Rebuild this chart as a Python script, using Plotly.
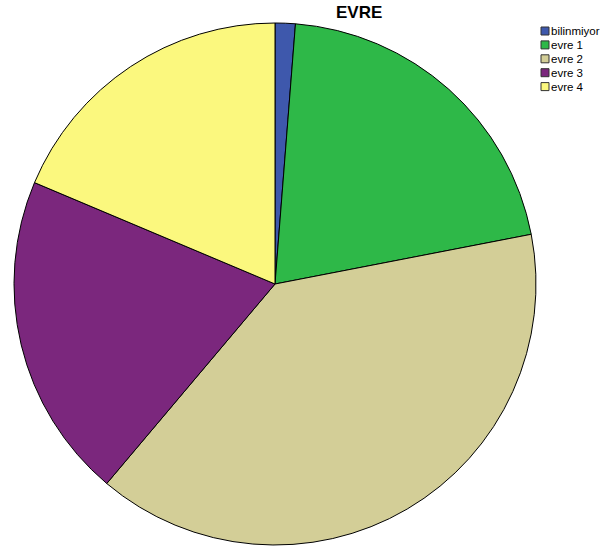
import plotly.graph_objects as go

categories = ["bilinmiyor", "evre 1", "evre 2", "evre 3", "evre 4"]
values = [1.25, 20.7, 39.2, 20.2, 18.65]
colors = ["#3E58AC", "#2EB848", "#D3CE97", "#7B277D", "#FBF87E"]

W, H = 603, 554
fig = go.Figure(go.Pie(
    labels=categories, values=values, sort=False, direction="clockwise",
    rotation=0, textinfo="none", hoverinfo="label+percent",
    marker=dict(colors=colors, line=dict(color="black", width=1)),
    domain=dict(x=[14 / W, 536 / W], y=[9 / H, 531 / H]),
    showlegend=False,
))

# manual legend (compact, like the reference)
for i, (lab, col) in enumerate(zip(categories, colors)):
    yc = 31 + i * 13.9
    fig.add_shape(type="rect", xref="paper", yref="paper",
                  x0=541 / W, x1=549 / W, y0=1 - (yc - 4) / H, y1=1 - (yc + 4) / H,
                  fillcolor=col, line=dict(color="#333333", width=1))
    fig.add_annotation(x=549.5 / W, y=1 - yc / H, xref="paper", yref="paper",
                       text=lab, showarrow=False, xanchor="left", yanchor="middle",
                       borderpad=0,
                       font=dict(family="Liberation Sans, Arial", size=11.5, color="black"))

fig.add_annotation(x=359 / W, y=1 - 12.5 / H, xref="paper", yref="paper",
                   text="<b>EVRE</b>", showarrow=False, xanchor="center", yanchor="middle",
                   font=dict(family="Liberation Sans, Arial", size=17, color="black"))

fig.update_layout(width=W, height=H, margin=dict(l=0, r=0, t=0, b=0),
                  paper_bgcolor="white", plot_bgcolor="white")
fig.write_html("out.html")
